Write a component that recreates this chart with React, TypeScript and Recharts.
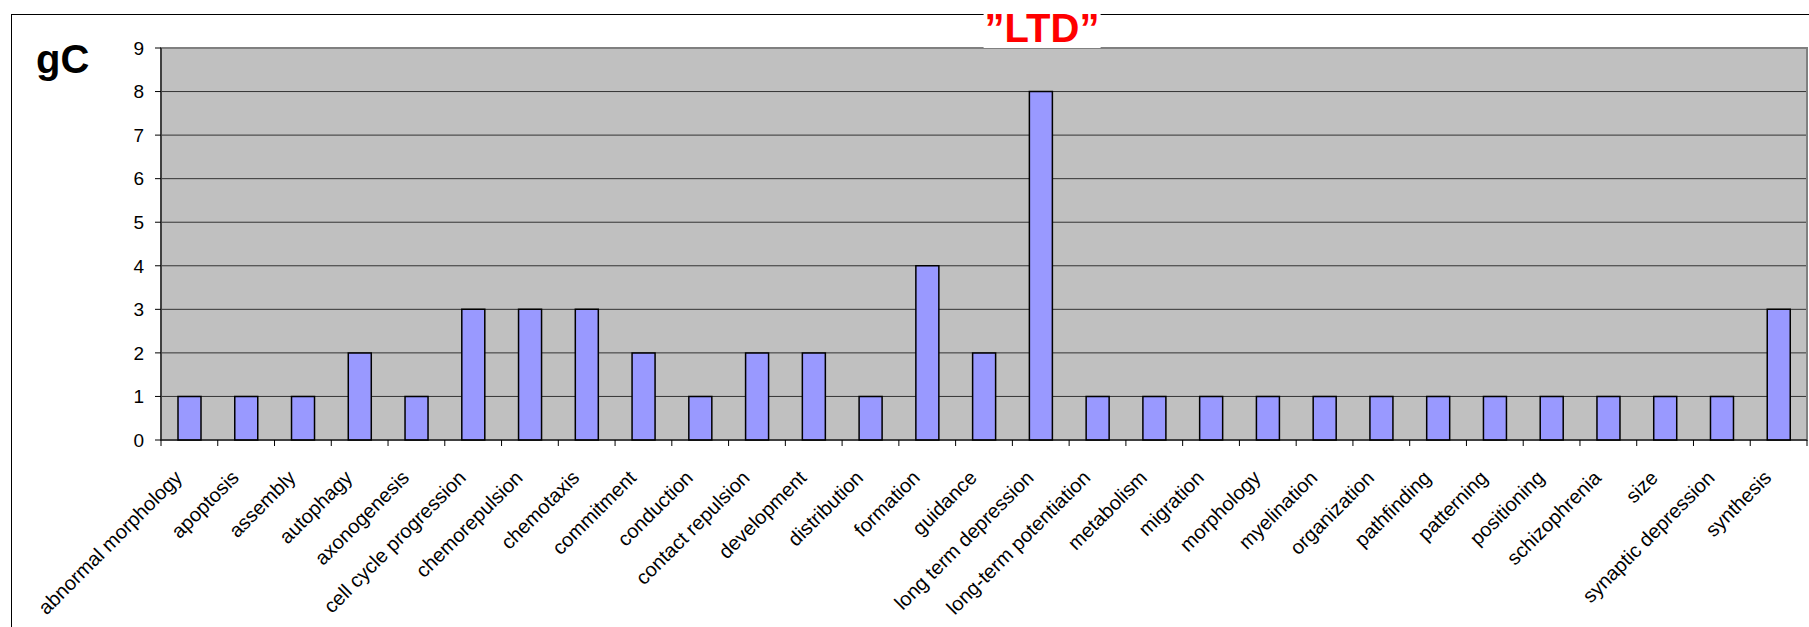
import React from "react";
import { BarChart, Bar, XAxis, YAxis, CartesianGrid, ReferenceArea } from "recharts";

const categories = [
  "abnormal morphology", "apoptosis", "assembly", "autophagy", "axonogenesis",
  "cell cycle progression", "chemorepulsion", "chemotaxis", "commitment", "conduction",
  "contact repulsion", "development", "distribution", "formation", "guidance",
  "long term depression", "long-term potentiation", "metabolism", "migration", "morphology",
  "myelination", "organization", "pathfinding", "patterning", "positioning",
  "schizophrenia", "size", "synaptic depression", "synthesis",
];
const counts = [1, 1, 1, 2, 1, 3, 3, 3, 2, 1, 2, 2, 1, 4, 2, 8, 1, 1, 1, 1, 1, 1, 1, 1, 1, 1, 1, 1, 3];
const yTicks = [0, 1, 2, 3, 4, 5, 6, 7, 8, 9];
const chartTitle = "gC";
const annotation = "\u201DLTD\u201D";

const data = categories.map((name, i) => ({ name, value: counts[i] }));

const FONT = "'Liberation Sans', Arial, sans-serif";
const W = 1809;
const H = 627;
const MARGIN = { top: 48, right: 2, left: 121, bottom: 0 };
const Y_WIDTH = 40;

const XTick = (props: any) => {
  const { x, y, payload, index } = props;
  const plotW = W - MARGIN.left - MARGIN.right - Y_WIDTH;
  const half = payload && typeof payload.offset === "number" && payload.offset > 0
    ? payload.offset
    : plotW / categories.length / 2;
  const isLast = index === categories.length - 1;
  const ax = x - 6;
  const ay = y + 39;
  return (
    <g>
      <line x1={x - half} x2={x - half} y1={y} y2={y + 6} stroke="#000" strokeWidth={1} />
      {isLast && <line x1={x + half} x2={x + half} y1={y} y2={y + 6} stroke="#000" strokeWidth={1} />}
      <text
        x={ax}
        y={ay}
        textAnchor="end"
        fontSize={20}
        fontFamily={FONT}
        fill="#000"
        transform={`rotate(-45, ${ax}, ${ay})`}
      >
        {payload.value}
      </text>
    </g>
  );
};

export default function App() {
  return (
    <div style={{ position: "absolute", left: 0, top: 0, width: W, height: H, overflow: "hidden", background: "#fff", fontFamily: FONT }}>
      <div style={{ position: "absolute", left: 11, top: 14, width: 3000, height: 3000, borderTop: "1.5px solid #000", borderLeft: "1.5px solid #000" }} />
      <div style={{ position: "absolute", left: 0, top: 0 }}>
        <BarChart width={W} height={H} data={data} margin={MARGIN}>
          <CartesianGrid vertical={false} horizontal={true} stroke="#333333" strokeOpacity={1} fill="#C0C0C0" fillOpacity={1} />
          <ReferenceArea y1={0} y2={9} fill="none" stroke="#808080" strokeWidth={2} ifOverflow="visible" />
          <XAxis
            dataKey="name"
            interval={0}
            height={187}
            tickSize={0}
            tickMargin={0}
            tickLine={false}
            axisLine={{ stroke: "#000", strokeWidth: 1 }}
            tick={<XTick />}
          />
          <YAxis
            width={Y_WIDTH}
            domain={[0, 9]}
            ticks={yTicks}
            interval={0}
            tickSize={6}
            tickMargin={11}
            tickLine={{ stroke: "#000" }}
            axisLine={{ stroke: "#000", strokeWidth: 1 }}
            tick={{ fontSize: 19, fill: "#000", fontFamily: FONT }}
          />
          <Bar dataKey="value" fill="#9999FF" stroke="#000" strokeWidth={1.5} barSize={23} isAnimationActive={false} />
        </BarChart>
      </div>
      <div style={{ position: "absolute", left: 36, top: 39, fontSize: 40, lineHeight: "40px", fontWeight: "bold", color: "#000", whiteSpace: "nowrap" }}>
        {chartTitle}
      </div>
      <div style={{ position: "absolute", left: 1042, top: 8, transform: "translateX(-50%)", fontSize: 40, lineHeight: "40px", fontWeight: "bold", color: "#FF0000", background: "#fff", padding: "0 1px", whiteSpace: "nowrap" }}>
        {annotation}
      </div>
    </div>
  );
}
